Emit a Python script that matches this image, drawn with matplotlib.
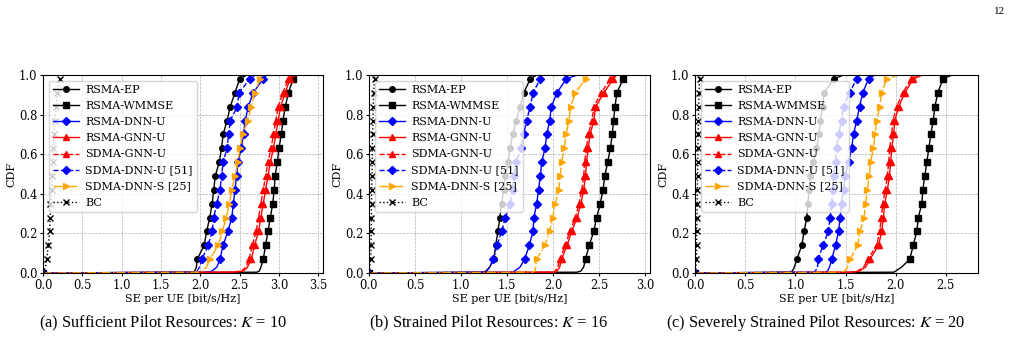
import matplotlib
matplotlib.use("Agg")
from matplotlib import pyplot as plt

plt.rcParams['font.family'] = 'DejaVu Serif'
plt.rcParams['mathtext.fontset'] = 'stix'

# CDF levels shared by all curves (first point is the origin)
cdf_levels = [0.0, 0.004, 0.01, 0.03,
              0.07, 0.14, 0.21, 0.28, 0.35, 0.42, 0.49,
              0.56, 0.63, 0.70, 0.77, 0.84, 0.91, 0.98, 1.0]
marker_idx = [0] + list(range(4, 18))

labels = ["RSMA-EP", "RSMA-WMMSE", "RSMA-DNN-U", "RSMA-GNN-U",
          "SDMA-GNN-U", "SDMA-DNN-U [51]", "SDMA-DNN-S [25]", "BC"]

# (a) K = 10
a_rsma_ep = [0, 1.91, 1.93, 1.95, 1.96, 2.05, 2.08, 2.12, 2.15, 2.17, 2.19,
             2.24, 2.27, 2.29, 2.34, 2.38, 2.44, 2.50, 2.59]
a_rsma_wmmse = [0, 2.72, 2.75, 2.77, 2.80, 2.83, 2.86, 2.89, 2.92, 2.94, 2.95,
                2.98, 3.00, 3.03, 3.05, 3.08, 3.12, 3.18, 3.23]
a_rsma_dnn = [0, 2.08, 2.15, 2.21, 2.25, 2.29, 2.35, 2.40, 2.42, 2.44, 2.46,
              2.48, 2.52, 2.55, 2.57, 2.61, 2.67, 2.80, 2.84]
a_rsma_gnn = [0, 2.42, 2.55, 2.60, 2.65, 2.69, 2.74, 2.77, 2.80, 2.83, 2.86,
              2.89, 2.93, 2.96, 2.99, 3.02, 3.08, 3.14, 3.22]
a_sdma_gnn = [0, 2.40, 2.52, 2.58, 2.62, 2.66, 2.71, 2.74, 2.77, 2.80, 2.83,
              2.86, 2.90, 2.93, 2.96, 2.99, 3.05, 3.12, 3.20]
a_sdma_dnn_u = [0, 1.93, 1.96, 1.99, 2.02, 2.10, 2.15, 2.17, 2.21, 2.25, 2.27,
                2.29, 2.34, 2.36, 2.38, 2.47, 2.49, 2.63, 2.70]
a_sdma_dnn_s = [0, 1.98, 2.02, 2.08, 2.12, 2.23, 2.28, 2.33, 2.37, 2.40, 2.44,
                2.48, 2.50, 2.54, 2.60, 2.65, 2.69, 2.76, 2.80]
a_bc = [0, 0.0, 0.01, 0.03, 0.047, 0.068, 0.085, 0.09, 0.095, 0.11, 0.12,
        0.125, 0.13, 0.14, 0.15, 0.17, 0.18, 0.21, 0.22]

# (b) K = 16
b_rsma_ep = [0, 1.24, 1.27, 1.31, 1.357, 1.375, 1.40, 1.42, 1.44, 1.46, 1.48,
             1.51, 1.53, 1.56, 1.60, 1.64, 1.68, 1.75, 1.82]
b_rsma_wmmse = [0, 2.26, 2.30, 2.33, 2.35, 2.39, 2.44, 2.47, 2.51, 2.54, 2.56,
                2.59, 2.62, 2.64, 2.655, 2.67, 2.69, 2.76, 2.78]
b_rsma_dnn = [0, 1.55, 1.58, 1.64, 1.69, 1.74, 1.78, 1.79, 1.82, 1.84, 1.86,
              1.875, 1.91, 1.93, 1.96, 1.98, 2.04, 2.14, 2.26]
b_rsma_gnn = [0, 2.02, 2.04, 2.07, 2.09, 2.15, 2.20, 2.26, 2.30, 2.33, 2.35,
              2.36, 2.38, 2.40, 2.44, 2.46, 2.55, 2.65, 2.69]
b_sdma_gnn = [0, 2.00, 2.02, 2.05, 2.07, 2.13, 2.18, 2.24, 2.28, 2.31, 2.33,
              2.34, 2.36, 2.38, 2.42, 2.44, 2.52, 2.62, 2.67]
b_sdma_dnn_u = [0, 1.26, 1.28, 1.31, 1.35, 1.39, 1.44, 1.48, 1.53, 1.56, 1.57,
                1.60, 1.65, 1.68, 1.71, 1.75, 1.78, 1.86, 1.90]
b_sdma_dnn_s = [0, 1.78, 1.80, 1.81, 1.82, 1.91, 1.96, 1.995, 2.02, 2.06, 2.075,
                2.09, 2.12, 2.14, 2.17, 2.19, 2.24, 2.35, 2.38]
b_bc = [0, 0.003, 0.005, 0.008, 0.02, 0.022, 0.024, 0.026, 0.028, 0.03, 0.032,
        0.034, 0.036, 0.04, 0.043, 0.046, 0.05, 0.06, 0.065]

# (c) K = 20
c_rsma_ep = [0, 0.93, 0.97, 0.99, 1.015, 1.064, 1.087, 1.114, 1.124, 1.137, 1.147,
             1.18, 1.21, 1.237, 1.247, 1.273, 1.286, 1.38, 1.48]
c_rsma_wmmse = [0, 1.98, 2.00, 2.06, 2.14, 2.175, 2.21, 2.225, 2.26, 2.27, 2.29,
                2.31, 2.33, 2.35, 2.374, 2.39, 2.42, 2.47, 2.56]
c_rsma_dnn = [0, 1.30, 1.32, 1.34, 1.363, 1.40, 1.43, 1.446, 1.46, 1.48, 1.495,
              1.53, 1.56, 1.58, 1.61, 1.64, 1.67, 1.73, 1.79]
c_rsma_gnn = [0, 1.58, 1.64, 1.70, 1.744, 1.83, 1.86, 1.877, 1.89, 1.917, 1.937,
              1.95, 1.96, 1.98, 1.99, 2.03, 2.09, 2.175, 2.27]
c_sdma_gnn = [0, 1.56, 1.62, 1.68, 1.724, 1.81, 1.84, 1.857, 1.87, 1.897, 1.917,
              1.93, 1.94, 1.96, 1.97, 2.01, 2.07, 2.155, 2.25]
c_sdma_dnn_u = [0, 1.18, 1.20, 1.22, 1.23, 1.273, 1.33, 1.346, 1.363, 1.37, 1.38,
                1.40, 1.41, 1.43, 1.46, 1.48, 1.54, 1.61, 1.645]
c_sdma_dnn_s = [0, 1.45, 1.49, 1.52, 1.545, 1.62, 1.645, 1.684, 1.70, 1.717, 1.737,
                1.75, 1.777, 1.794, 1.81, 1.84, 1.86, 1.91, 2.03]
c_bc = [0, 0.003, 0.005, 0.008, 0.013, 0.015, 0.017, 0.019, 0.021, 0.023, 0.025,
        0.027, 0.029, 0.031, 0.034, 0.037, 0.04, 0.045, 0.05]

panels = [
    [a_rsma_ep, a_rsma_wmmse, a_rsma_dnn, a_rsma_gnn, a_sdma_gnn, a_sdma_dnn_u, a_sdma_dnn_s, a_bc],
    [b_rsma_ep, b_rsma_wmmse, b_rsma_dnn, b_rsma_gnn, b_sdma_gnn, b_sdma_dnn_u, b_sdma_dnn_s, b_bc],
    [c_rsma_ep, c_rsma_wmmse, c_rsma_dnn, c_rsma_gnn, c_sdma_gnn, c_sdma_dnn_u, c_sdma_dnn_s, c_bc],
]
x_max = [3.56, 3.05, 2.82]
x_ticks = [[0, 0.5, 1.0, 1.5, 2.0, 2.5, 3.0, 3.5],
           [0, 0.5, 1.0, 1.5, 2.0, 2.5, 3.0],
           [0, 0.5, 1.0, 1.5, 2.0, 2.5]]
captions = ["(a) Sufficient Pilot Resources: $K$ = 10",
            "(b) Strained Pilot Resources: $K$ = 16",
            "(c) Severely Strained Pilot Resources: $K$ = 20"]

styles = [
    dict(color='black', ls='-', marker='o'),
    dict(color='black', ls='-', marker='s'),
    dict(color='blue', ls='-', marker='D'),
    dict(color='red', ls='-', marker='^'),
    dict(color='red', ls='--', marker='^'),
    dict(color='blue', ls='--', marker='D'),
    dict(color='orange', ls='-.', marker='>'),
    dict(color='black', ls=':', marker='x'),
]

fig = plt.figure(figsize=(10.12, 3.47), dpi=100)
ax_rects = [[0.0425, 0.2133, 0.2767, 0.5706],
            [0.3646, 0.2133, 0.2777, 0.5706],
            [0.6868, 0.2133, 0.2796, 0.5706]]
cap_x = [163 / 1012, 489 / 1012, 816 / 1012]

for p in range(3):
    ax = fig.add_axes(ax_rects[p])
    for k in range(len(labels)):
        ax.plot(panels[p][k], cdf_levels, label=labels[k], lw=1, ms=4,
                markevery=marker_idx, **styles[k])
    ax.set_xlim(0, x_max[p])
    ax.set_ylim(0, 1)
    ax.set_xticks(x_ticks[p])
    ax.set_yticks([0, 0.2, 0.4, 0.6, 0.8, 1.0])
    ax.tick_params(labelsize=8.3, length=2.5, pad=1.5)
    ax.grid(True, ls='--', lw=0.5, color='#b0b0b0')
    ax.set_xlabel("SE per UE [bit/s/Hz]", fontsize=8, labelpad=2)
    ax.set_ylabel("CDF", fontsize=8, labelpad=2)
    ax.legend(loc='upper left', fontsize=8, handlelength=2.3, handletextpad=0.6,
              labelspacing=0.55, borderpad=0.4)
    fig.text(cap_x[p], 0.069, captions[p], ha='center', va='center',
             fontsize=11.8, family='Liberation Serif')

fig.text(0.9875, 0.967, "12", ha='center', va='center', fontsize=8,
         family='Liberation Serif')

fig.savefig("out.png", dpi=100)
